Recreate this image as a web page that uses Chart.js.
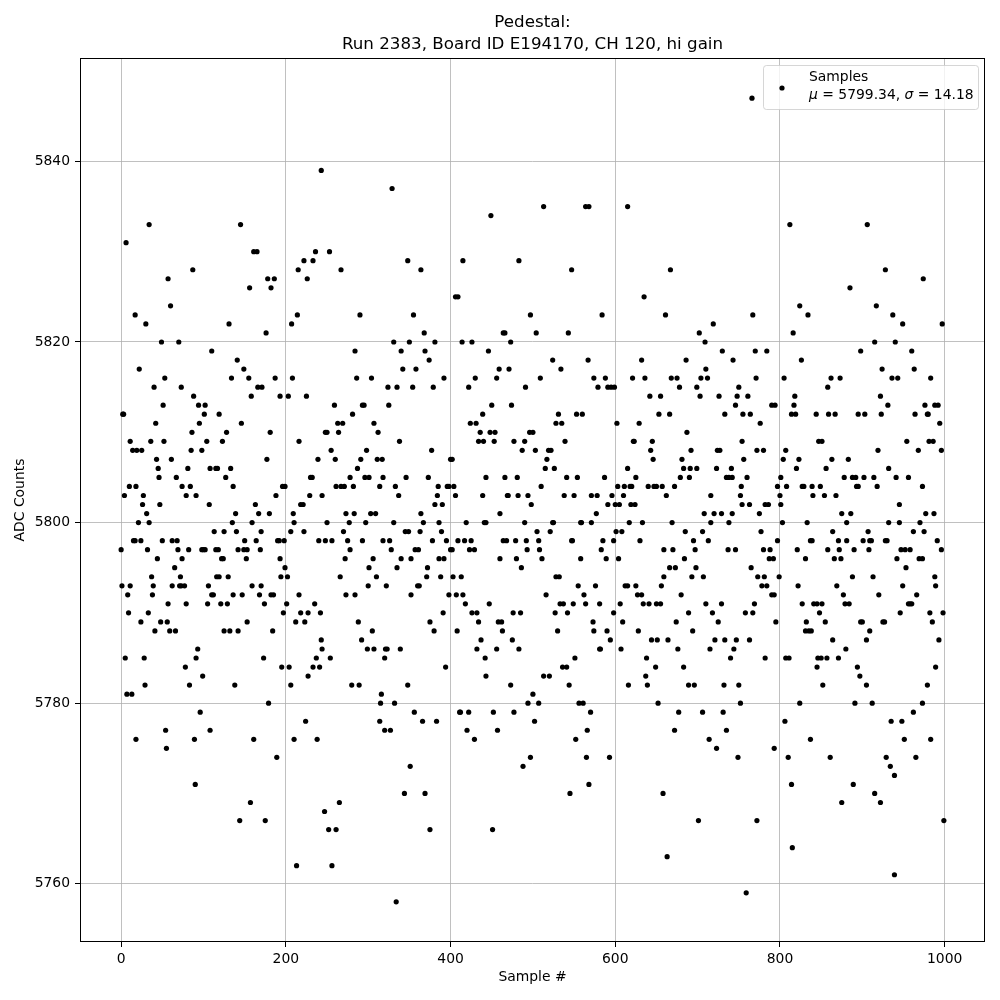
<!DOCTYPE html>
<html>
<head>
<meta charset="utf-8">
<title>Pedestal</title>
<script src="https://cdn.jsdelivr.net/npm/chart.js@4.4.0/dist/chart.umd.min.js"></script>
<style>
  html, body { margin: 0; padding: 0; background: #fff; }
  canvas { display: block; }
</style>
</head>
<body>
<canvas id="pedestalChart" width="1000" height="1000"></canvas>
<script>
// ADC count levels (one row of dots each) and the sample numbers seen on that row
const adcLevels = [
  5847, 5839, 5837, 5835, 5834, 5833, 5831, 5830, 5829, 5828,
  5827, 5826, 5825, 5824, 5823, 5822, 5821, 5820, 5819, 5818,
  5817, 5816, 5815, 5814, 5813, 5812, 5811, 5810, 5809, 5808,
  5807, 5806, 5805, 5804, 5803, 5802, 5801, 5800, 5799, 5798,
  5797, 5796, 5795, 5794, 5793, 5792, 5791, 5790, 5789, 5788,
  5787, 5786, 5785, 5784, 5783, 5782, 5781, 5780, 5779, 5778,
  5777, 5776, 5775, 5774, 5773, 5772, 5771, 5770, 5769, 5768,
  5767, 5766, 5764, 5763, 5762, 5761, 5759, 5758
];
const samplesAtLevel = [
  [766],
  [243],
  [329],
  [513, 564, 568, 615],
  [449],
  [34, 145, 812, 906],
  [6],
  [161, 165, 236, 253],
  [222, 233, 348, 415, 483],
  [87, 215, 267, 364, 547, 667, 928],
  [57, 178, 186, 226, 974],
  [156, 182, 885],
  [406, 409, 635],
  [60, 824, 917],
  [17, 214, 290, 355, 497, 584, 661, 767, 834, 937],
  [30, 131, 207, 719, 949, 997],
  [176, 368, 464, 466, 504, 543, 702, 816],
  [49, 70, 331, 350, 381, 414, 426, 473, 709, 915, 940],
  [110, 284, 340, 369, 446, 730, 770, 784, 898, 960],
  [141, 374, 524, 567, 632, 686, 743, 826],
  [22, 149, 342, 358, 459, 471, 534, 710, 924, 963],
  [53, 134, 155, 187, 208, 286, 304, 392, 430, 456, 509, 574, 588, 621, 636, 668, 675, 704, 712, 771, 805, 862, 873, 936, 943, 983],
  [40, 73, 166, 171, 324, 335, 354, 379, 422, 491, 579, 591, 595, 599, 678, 699, 750, 858],
  [88, 158, 193, 203, 225, 642, 655, 703, 726, 748, 761, 818, 922],
  [51, 94, 102, 259, 293, 295, 325, 450, 474, 746, 790, 794, 817, 931, 976, 988, 992],
  [2, 3, 101, 119, 281, 439, 531, 553, 560, 653, 666, 733, 755, 764, 814, 819, 844, 859, 867, 895, 903, 923, 964, 979, 980],
  [42, 95, 146, 263, 269, 307, 424, 431, 528, 535, 602, 629, 776, 994],
  [86, 128, 181, 248, 250, 264, 312, 436, 448, 454, 496, 500, 687],
  [11, 36, 52, 104, 123, 216, 338, 434, 440, 453, 477, 490, 539, 622, 623, 645, 754, 847, 851, 954, 981, 986],
  [14, 19, 25, 85, 98, 255, 298, 377, 487, 503, 519, 522, 643, 692, 724, 727, 772, 780, 807, 919, 968, 996],
  [43, 61, 177, 239, 260, 291, 311, 317, 400, 402, 517, 646, 681, 756, 804, 823, 863, 883],
  [45, 81, 108, 115, 117, 133, 287, 515, 526, 615, 683, 691, 699, 723, 741, 820, 856, 932],
  [46, 67, 127, 230, 232, 278, 296, 301, 318, 346, 373, 443, 466, 481, 541, 554, 587, 625, 679, 690, 735, 738, 742, 760, 801, 878, 888, 892, 902, 914, 941, 956],
  [10, 18, 74, 84, 136, 196, 199, 261, 267, 271, 282, 314, 333, 385, 396, 398, 404, 510, 603, 611, 618, 620, 640, 647, 650, 657, 672, 753, 797, 808, 827, 829, 839, 849, 893, 895, 918, 973],
  [4, 27, 79, 91, 188, 229, 244, 337, 384, 406, 439, 469, 470, 482, 494, 538, 550, 571, 578, 596, 610, 662, 716, 752, 800, 840, 854, 868],
  [26, 47, 107, 163, 218, 221, 381, 390, 498, 591, 600, 605, 619, 624, 754, 763, 782, 786, 801, 945],
  [31, 139, 167, 180, 209, 273, 283, 303, 309, 364, 460, 577, 708, 720, 729, 742, 775, 875, 886, 977, 987],
  [21, 34, 135, 159, 210, 250, 277, 297, 331, 367, 386, 419, 441, 443, 490, 524, 525, 558, 559, 571, 617, 633, 669, 716, 738, 803, 833, 881, 932, 945, 970],
  [113, 125, 140, 170, 206, 222, 270, 345, 349, 363, 389, 505, 521, 601, 608, 685, 706, 777, 864, 907, 962, 975],
  [15, 17, 24, 50, 62, 68, 150, 164, 190, 192, 198, 240, 248, 256, 275, 293, 318, 326, 378, 395, 409, 417, 425, 464, 468, 479, 492, 507, 547, 548, 585, 598, 630, 695, 713, 797, 837, 839, 871, 881, 901, 909, 911, 928, 930, 991],
  [0, 32, 69, 82, 98, 100, 102, 115, 118, 142, 149, 153, 169, 278, 328, 357, 361, 400, 402, 423, 429, 493, 508, 583, 659, 670, 697, 737, 746, 780, 788, 821, 858, 872, 890, 908, 947, 952, 958, 996],
  [44, 74, 122, 124, 152, 193, 272, 306, 340, 352, 386, 392, 460, 480, 511, 558, 589, 604, 684, 787, 792, 831, 866, 874, 942, 969, 973],
  [65, 199, 301, 335, 372, 486, 666, 673, 698, 765, 953],
  [37, 72, 116, 119, 130, 194, 202, 266, 310, 371, 388, 403, 413, 528, 532, 659, 693, 707, 773, 781, 799, 888, 913, 988],
  [1, 11, 39, 62, 71, 73, 77, 106, 159, 170, 300, 322, 360, 362, 555, 576, 612, 615, 625, 656, 778, 784, 822, 869, 949, 989],
  [8, 38, 110, 112, 136, 147, 168, 182, 185, 216, 273, 284, 352, 398, 407, 415, 516, 562, 627, 632, 680, 790, 793, 877, 920, 966],
  [57, 79, 105, 121, 129, 174, 201, 235, 418, 447, 533, 537, 549, 564, 581, 606, 634, 641, 650, 655, 710, 729, 769, 827, 841, 845, 851, 879, 884, 956, 958, 960],
  [9, 33, 197, 218, 227, 242, 391, 426, 432, 476, 485, 527, 542, 598, 689, 718, 758, 767, 848, 946, 982, 998],
  [24, 48, 56, 153, 212, 223, 288, 375, 434, 458, 462, 573, 609, 674, 725, 795, 832, 855, 898, 900, 925, 927, 985],
  [41, 59, 66, 125, 132, 142, 184, 305, 380, 408, 463, 530, 574, 590, 628, 694, 831, 835, 838, 909],
  [243, 292, 437, 475, 594, 644, 651, 664, 721, 733, 747, 763, 864, 905, 993],
  [93, 244, 299, 307, 321, 323, 339, 432, 456, 483, 581, 582, 607, 676, 715, 744, 880],
  [5, 28, 91, 173, 237, 254, 320, 442, 551, 638, 740, 782, 807, 811, 846, 850, 857, 871],
  [78, 195, 204, 233, 241, 394, 536, 541, 649, 683, 845, 894, 989],
  [99, 227, 443, 513, 520, 637, 897],
  [29, 83, 138, 206, 280, 289, 348, 473, 544, 616, 639, 689, 696, 732, 750, 852, 905, 979],
  [7, 13, 316, 500],
  [179, 315, 332, 494, 507, 556, 561, 652, 752, 824, 891, 912, 973],
  [96, 356, 411, 412, 422, 452, 477, 570, 677, 706, 731, 962],
  [224, 314, 366, 383, 502, 806, 935, 948],
  [54, 108, 320, 327, 420, 457, 566, 672, 735],
  [18, 89, 161, 210, 238, 429, 552, 714, 837, 951, 983],
  [55, 723, 793],
  [189, 497, 565, 593, 749, 810, 861, 929, 965],
  [351, 488, 934],
  [939],
  [90, 568, 814, 889],
  [344, 369, 545, 658, 915],
  [157, 265, 875, 922],
  [247],
  [144, 175, 701, 772, 999],
  [252, 261, 375, 451],
  [815],
  [663],
  [213, 256],
  [939],
  [759],
  [334]
];

const xTickValues = [0, 200, 400, 600, 800, 1000];
const yTickValues = [5760, 5780, 5800, 5820, 5840];

const titleLines = ["Pedestal:", "Run 2383, Board ID E194170, CH 120, hi gain"];
const legendLabel = "Samples";
const meanText = "5799.34";
const sigmaText = "14.18";

// build scatter points from the rows
const points = [];
adcLevels.forEach((level, i) => {
  samplesAtLevel[i].forEach((s) => points.push({ x: s, y: level }));
});

const FONT = "'DejaVu Sans', 'Liberation Sans', sans-serif";

/* title, top/right frame and legend box, drawn the matplotlib way */
const decorPlugin = {
  id: "decor",
  afterDraw(chart) {
    const ctx = chart.ctx;
    const area = chart.chartArea;
    ctx.save();

    // frame
    ctx.strokeStyle = "#000";
    ctx.lineWidth = 1;
    ctx.strokeRect(Math.round(area.left) + 0.5, Math.round(area.top) + 0.5,
      Math.round(area.right - area.left) - 1, Math.round(area.bottom - area.top) - 1);

    // title
    ctx.fillStyle = "#000";
    ctx.font = "16.7px " + FONT;
    ctx.textAlign = "center";
    ctx.textBaseline = "middle";
    const cx = (area.left + area.right) / 2;
    ctx.fillText(titleLines[0], cx, 23);
    ctx.fillText(titleLines[1], cx, 45);

    // legend
    const bx = 763.5, by = 65.5, bw = 215, bh = 44;
    ctx.globalAlpha = 0.8;
    ctx.fillStyle = "#fff";
    ctx.strokeStyle = "#cccccc";
    ctx.beginPath();
    ctx.roundRect(bx, by, bw, bh, 3);
    ctx.fill();
    ctx.stroke();
    ctx.globalAlpha = 1;

    ctx.fillStyle = "#000";
    ctx.beginPath();
    ctx.arc(782, 88, 2.6, 0, Math.PI * 2);
    ctx.fill();

    ctx.textAlign = "left";
    ctx.font = "13.9px " + FONT;
    ctx.fillText(legendLabel, 809, 77);

    let x = 809;
    const y2 = 95;
    const parts = [
      ["italic", "\u03bc"],
      ["normal", " = " + meanText + ", "],
      ["italic", "\u03c3"],
      ["normal", " = " + sigmaText]
    ];
    parts.forEach(([style, txt]) => {
      ctx.font = (style === "italic" ? "italic " : "") + "13.9px " + FONT;
      ctx.fillText(txt, x, y2);
      x += ctx.measureText(txt).width;
    });

    ctx.restore();
  }
};

const ctx = document.getElementById("pedestalChart");

const config = {
  type: "scatter",
  data: {
    datasets: [
      {
        label: legendLabel,
        data: points,
        backgroundColor: "#000",
        borderWidth: 0,
        pointRadius: 2.6,
        pointHoverRadius: 2.6
      }
    ]
  },
  options: {
    responsive: false,
    animation: false,
    events: [],
    layout: { padding: { top: 58, right: 15, bottom: 0, left: 0 } },
    plugins: {
      legend: { display: false },
      title: { display: false },
      tooltip: { enabled: false }
    },
    scales: {
      x: {
        type: "linear",
        min: -49.95,
        max: 1048.95,
        afterFit: (scale) => { scale.height = 58; },
        afterBuildTicks: (axis) => { axis.ticks = xTickValues.map((v) => ({ value: v })); },
        grid: { color: "#b0b0b0", lineWidth: 0.8, tickColor: "#000", tickLength: 5, tickWidth: 1 },
        border: { display: false },
        ticks: {
          color: "#000",
          font: { family: FONT, size: 13.9 },
          padding: 4,
          maxRotation: 0,
          callback: (v) => String(v)
        },
        title: {
          display: true,
          text: "Sample #",
          color: "#000",
          font: { family: FONT, size: 13.9 },
          padding: { top: 0, bottom: 14 }
        }
      },
      y: {
        type: "linear",
        min: 5753.55,
        max: 5851.45,
        afterFit: (scale) => { scale.width = 80; },
        afterBuildTicks: (axis) => { axis.ticks = yTickValues.map((v) => ({ value: v })); },
        grid: { color: "#b0b0b0", lineWidth: 0.8, tickColor: "#000", tickLength: 5, tickWidth: 1 },
        border: { display: false },
        ticks: {
          color: "#000",
          font: { family: FONT, size: 13.9 },
          padding: 5,
          callback: (v) => String(v)
        },
        title: {
          display: true,
          text: "ADC Counts",
          color: "#000",
          font: { family: FONT, size: 13.9 },
          padding: { top: 12, bottom: 0 }
        }
      }
    }
  },
  plugins: [decorPlugin]
};

const chart = new Chart(ctx, config);
</script>
</body>
</html>
